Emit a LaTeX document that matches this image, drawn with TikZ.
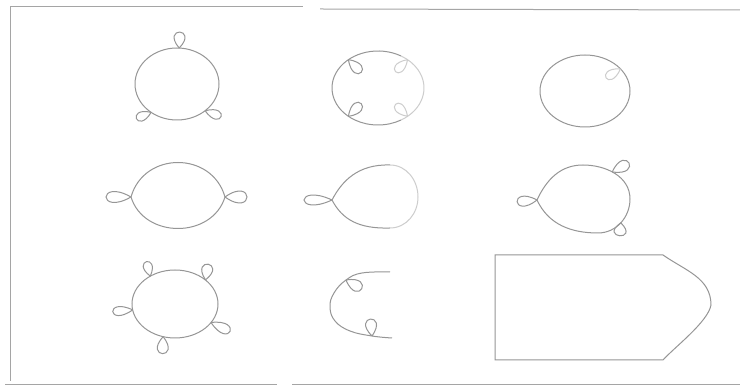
\documentclass[tikz,border=0pt]{standalone}
\usetikzlibrary{calc}
\definecolor{pencil}{RGB}{150,150,150}
\definecolor{faintpencil}{RGB}{205,205,205}
\definecolor{framegray}{RGB}{165,165,165}
\begin{document}
\begin{tikzpicture}[x=1pt,y=1pt,
  ln/.style={draw=pencil, line width=1pt},
  fl/.style={draw=faintpencil, line width=1pt},
  frm/.style={draw=framegray, line width=1pt},
  % teardrop loop: base at origin, tip at x=1, full width 1
  lp/.pic={\draw[ln] (0,0) .. controls (1.333,1.733) and (1.333,-1.733) .. (0,0);},
  lpf/.pic={\draw[fl] (0,0) .. controls (1.333,1.733) and (1.333,-1.733) .. (0,0);}]
\fill[white] (0,0) rectangle (740,390);
\useasboundingbox (0,0) rectangle (740,390);

% outer frame
\draw[frm] (10,9) -- (10,383) -- (303,383);
\draw[frm] (320,381) -- (740,380);
\draw[frm] (5,5) -- (277,5);
\draw[frm] (292,5) -- (740,5);

% row 1, left: circle with three outward loops
\coordinate (c1) at (177,306);
\draw[ln] (c1) ellipse [x radius=42, y radius=36];
\pic[rotate=88, xscale=16, yscale=11] at ($(c1)+(87:42 and 36)$) {lp};
\pic[rotate=203, xscale=16, yscale=9] at ($(c1)+(232:42 and 36)$) {lp};
\pic[rotate=-20, xscale=17, yscale=9] at ($(c1)+(-48:42 and 36)$) {lp};

% row 1, middle: circle with four inward curls
\coordinate (c2) at (378,302);
\draw[ln] ($(c2)+(60:46 and 37)$) arc[start angle=60, end angle=300, x radius=46, y radius=37];
\draw[fl] ($(c2)+(-60:46 and 37)$) arc[start angle=-60, end angle=60, x radius=46, y radius=37];
\pic[rotate=-45, xscale=18, yscale=10] at ($(c2)+(130:46 and 37)$) {lp};
\pic[rotate=45, xscale=18, yscale=10] at ($(c2)+(230:46 and 37)$) {lp};
\pic[rotate=225, xscale=17, yscale=9] at ($(c2)+(50:46 and 37)$) {lpf};
\pic[rotate=135, xscale=17, yscale=9] at ($(c2)+(-50:46 and 37)$) {lpf};

% row 1, right: circle with one inward curl
\coordinate (c3) at (585,299);
\draw[ln] (c3) ellipse [x radius=45, y radius=36];
\pic[rotate=212, xscale=17, yscale=9] at ($(c3)+(38:45 and 36)$) {lpf};

% row 2, left: rounded lens with two end loops
\coordinate (l4) at (131,193);
\coordinate (r4) at (225,193);
\draw[ln] (l4) .. controls (144,239) and (212,239) .. (r4)
               .. controls (212,151) and (144,151) .. (l4);
\pic[rotate=180, xscale=25, yscale=11] at (l4) {lp};
\pic[rotate=0, xscale=22, yscale=12] at (r4) {lp};

% row 2, middle: open arc with one loop
\coordinate (l5) at (332,190);
\coordinate (t5) at (390,225);
\coordinate (b5) at (390,162);
\draw[ln] (t5) .. controls (358,226) and (342,209) .. (l5)
               .. controls (342,171) and (358,161) .. (b5);
\draw[fl] (t5) to[out=0, in=90] (418,193) to[out=-90, in=0] (b5);
\pic[rotate=180, xscale=28, yscale=10] at (l5) {lp};

% row 2, right: egg with three loops
\coordinate (l6) at (537,190);
\draw[ln] (l6) to[out=65, in=180] (583,225)
               to[out=0, in=90] coordinate[pos=0.45] (a6) (630,191)
               to[out=-90, in=0] coordinate[pos=0.5] (d6) (598,157)
               to[out=180, in=-65] (l6);
\pic[rotate=185, xscale=20, yscale=10] at (l6) {lp};
\pic[rotate=28, xscale=19, yscale=11] at (a6) {lp};
\pic[rotate=-95, xscale=13, yscale=12] at (d6) {lp};

% row 3, left: circle with five loops
\coordinate (c7) at (175,86);
\draw[ln] (c7) ellipse [x radius=43, y radius=34];
\pic[rotate=105, xscale=15, yscale=9] at ($(c7)+(125:43 and 34)$) {lp};
\pic[rotate=80, xscale=16, yscale=11] at ($(c7)+(45:43 and 34)$) {lp};
\pic[rotate=185, xscale=20, yscale=9] at ($(c7)+(190:43 and 34)$) {lp};
\pic[rotate=-25, xscale=21, yscale=10] at ($(c7)+(-33:43 and 34)$) {lp};
\pic[rotate=-92, xscale=17, yscale=11] at ($(c7)+(254:43 and 34)$) {lp};

% row 3, middle: open hook with two inward curls
\coordinate (s8) at (390,118);
\coordinate (k8) at (346,110);
\coordinate (m8) at (372,54);
\coordinate (e8) at (392,52);
\draw[ln] plot[smooth, tension=0.7] coordinates
  {(s8) (362,117) (k8) (334,97) (330,83) (335,69) (350,59) (m8) (e8)};
\pic[rotate=-29, xscale=18, yscale=11] at (k8) {lp};
\pic[rotate=95, xscale=17, yscale=11] at (m8) {lp};

% row 3, right: five-sided plate with rounded point
\draw[ln] (495,135) -- (663,135)
  to[out=-35, in=90] (711,85)
  to[out=-100, in=48, looseness=0.6] (663,30)
  -- (495,30) -- cycle;
\end{tikzpicture}
\end{document}
